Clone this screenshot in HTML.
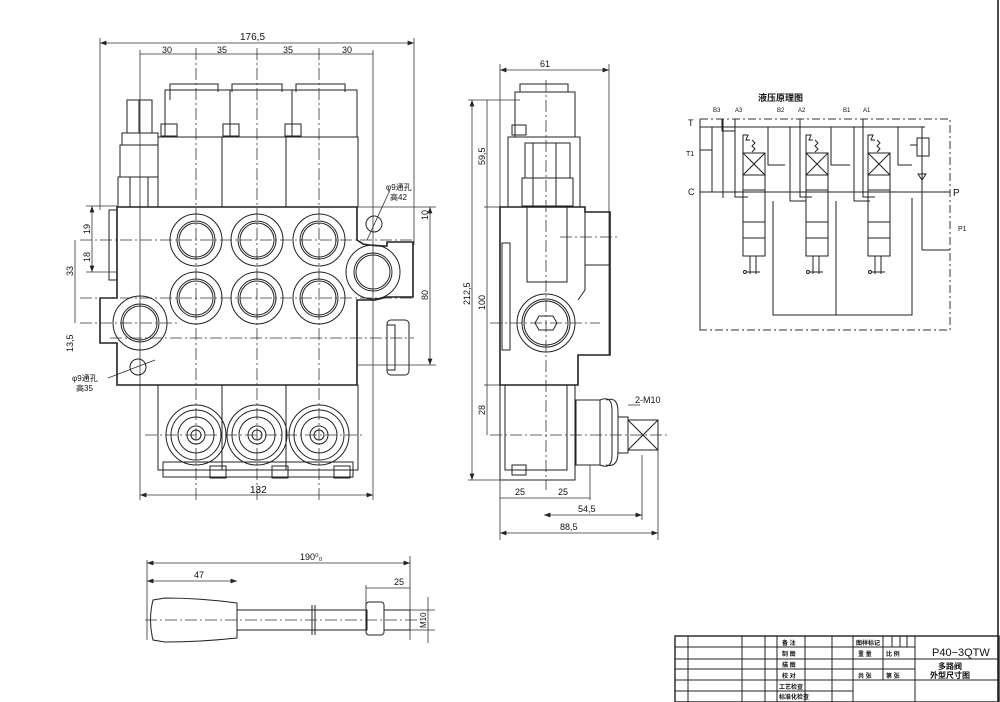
<!DOCTYPE html>
<html><head><meta charset="utf-8"><style>
body{margin:0;background:#fff}
svg{display:block}
text{font-family:"Liberation Sans","Noto Sans CJK SC",sans-serif;fill:#111}
.s{fill:none;stroke:#222;stroke-width:1}
.t{fill:none;stroke:#222;stroke-width:1.6}
.c{fill:none;stroke:#333;stroke-width:.8;stroke-dasharray:12 3 2 3}
.d{fill:none;stroke:#333;stroke-width:.8}
.dd{fill:none;stroke:#333;stroke-width:1;stroke-dasharray:8 3 2 3}
</style></head><body>
<svg width="1000" height="702" viewBox="0 0 1000 702" xmlns="http://www.w3.org/2000/svg">
<defs><marker id="a" markerWidth="8" markerHeight="6" refX="8" refY="3" orient="auto-start-reverse"><path d="M0,0 L8,3 L0,6 z" fill="#222"/></marker></defs>

<!-- ===== FRONT VIEW ===== -->
<!-- dims top -->
<line class="d" x1="100" y1="38" x2="100" y2="210"/><line class="d" x1="414" y1="38" x2="414" y2="245"/>
<line class="d" x1="100" y1="43" x2="414" y2="43" marker-start="url(#a)" marker-end="url(#a)"/>
<text x="240" y="40" font-size="10">176,5</text>
<line class="d" x1="140" y1="54" x2="373" y2="54"/>
<line class="d" x1="140" y1="50" x2="140" y2="500"/><line class="d" x1="373" y1="50" x2="373" y2="500"/>
<text x="162" y="53" font-size="9">30</text><text x="217" y="53" font-size="9">35</text><text x="283" y="53" font-size="9">35</text><text x="342" y="53" font-size="9">30</text>
<line class="c" x1="196" y1="48" x2="196" y2="500"/><line class="c" x1="257" y1="48" x2="257" y2="500"/><line class="c" x1="319" y1="48" x2="319" y2="500"/>
<!-- top caps -->
<rect class="s" x="165" y="90" width="192" height="47"/>
<line class="s" x1="230" y1="90" x2="230" y2="137"/><line class="s" x1="292" y1="90" x2="292" y2="137"/>
<polyline class="s" points="170,100 170,84 218,84 218,92"/><polyline class="s" points="232,92 232,84 282,84 282,92"/><polyline class="s" points="296,92 296,84 345,84 345,92"/>
<rect class="s" x="161" y="124" width="16" height="12"/><rect class="s" x="223" y="124" width="16" height="12"/><rect class="s" x="285" y="124" width="16" height="12"/>
<rect class="s" x="158" y="137" width="200" height="70"/>
<line class="s" x1="222" y1="137" x2="222" y2="207"/><line class="s" x1="286" y1="137" x2="286" y2="207"/>
<!-- relief valve -->
<rect class="s" x="127" y="100" width="25" height="33"/><line class="s" x1="139" y1="100" x2="139" y2="133"/>
<rect class="s" x="122" y="133" width="36" height="12"/>
<rect class="s" x="120" y="145" width="38" height="32"/>
<rect class="s" x="118" y="177" width="40" height="30"/><line class="s" x1="130" y1="177" x2="130" y2="207"/><line class="s" x1="148" y1="177" x2="148" y2="207"/>
<!-- body -->
<path class="t" d="M117,207 H357 V240 L363,244 Q373,246 387,246 V242 H413 V297 H387 L375,300 H357 V385 H117 V343 H100 V298 H117 Z"/>
<rect class="s" x="109" y="210" width="8" height="70"/>
<rect class="s" x="387" y="320" width="22" height="55" rx="4"/><rect class="s" x="387" y="325" width="8" height="45"/>
<line class="c" x1="110" y1="338" x2="414" y2="338"/>
<line class="c" x1="80" y1="240" x2="414" y2="240"/><line class="c" x1="80" y1="298" x2="414" y2="298"/>
<line class="c" x1="80" y1="323" x2="180" y2="323"/>
<!-- ports -->
<g class="s">
<circle cx="196" cy="240" r="26"/><circle cx="196" cy="240" r="19"/><circle cx="196" cy="240" r="17"/>
<circle cx="257" cy="240" r="26"/><circle cx="257" cy="240" r="19"/><circle cx="257" cy="240" r="17"/>
<circle cx="319" cy="240" r="26"/><circle cx="319" cy="240" r="19"/><circle cx="319" cy="240" r="17"/>
<circle cx="196" cy="298" r="26"/><circle cx="196" cy="298" r="19"/><circle cx="196" cy="298" r="17"/>
<circle cx="257" cy="298" r="26"/><circle cx="257" cy="298" r="19"/><circle cx="257" cy="298" r="17"/>
<circle cx="319" cy="298" r="26"/><circle cx="319" cy="298" r="19"/><circle cx="319" cy="298" r="17"/>
<circle cx="373" cy="272" r="27"/><circle cx="373" cy="272" r="19"/><circle cx="373" cy="272" r="17"/>
<circle cx="140" cy="323" r="27"/><circle cx="140" cy="323" r="19"/><circle cx="140" cy="323" r="17"/>
<circle cx="374" cy="224" r="8"/><circle cx="138" cy="367" r="8"/>
</g>
<!-- bottom -->
<rect class="s" x="158" y="385" width="200" height="85"/>
<line class="s" x1="222" y1="385" x2="222" y2="470"/><line class="s" x1="286" y1="385" x2="286" y2="470"/>
<rect class="s" x="163" y="462" width="190" height="15"/>
<g class="s">
<circle cx="196" cy="435" r="30"/><circle cx="196" cy="435" r="25"/><circle cx="196" cy="435" r="18"/><circle cx="196" cy="435" r="9"/><circle cx="196" cy="435" r="5"/>
<circle cx="257" cy="435" r="30"/><circle cx="257" cy="435" r="25"/><circle cx="257" cy="435" r="18"/><circle cx="257" cy="435" r="9"/><circle cx="257" cy="435" r="5"/>
<circle cx="319" cy="435" r="30"/><circle cx="319" cy="435" r="25"/><circle cx="319" cy="435" r="18"/><circle cx="319" cy="435" r="9"/><circle cx="319" cy="435" r="5"/>
<rect x="210" y="466" width="16" height="12"/><rect x="272" y="466" width="16" height="12"/><rect x="334" y="466" width="16" height="12"/>
</g>
<line class="c" x1="145" y1="435" x2="365" y2="435"/>
<line class="d" x1="140" y1="495" x2="373" y2="495" marker-start="url(#a)" marker-end="url(#a)"/>
<text x="250" y="493" font-size="10">132</text>
<!-- left dims -->
<line class="d" x1="86" y1="206" x2="117" y2="206"/><line class="d" x1="86" y1="272" x2="117" y2="272"/>
<line class="d" x1="92" y1="206" x2="92" y2="272" marker-start="url(#a)" marker-end="url(#a)"/>
<line class="d" x1="75" y1="240" x2="75" y2="323"/>
<text x="90" y="234" font-size="9" transform="rotate(-90 90 234)">19</text>
<text x="90" y="262" font-size="9" transform="rotate(-90 90 262)">18</text>
<text x="73" y="276" font-size="9" transform="rotate(-90 73 276)">33</text>
<text x="73" y="352" font-size="9" transform="rotate(-90 73 352)">13,5</text>
<!-- right dims -->
<line class="d" x1="357" y1="207" x2="436" y2="207"/><line class="d" x1="357" y1="365" x2="436" y2="365"/>
<line class="d" x1="430" y1="207" x2="430" y2="365" marker-start="url(#a)" marker-end="url(#a)"/>
<text x="428" y="220" font-size="9" transform="rotate(-90 428 220)">10</text>
<text x="428" y="300" font-size="9" transform="rotate(-90 428 300)">80</text>
<line class="d" x1="367" y1="240" x2="390" y2="190"/>
<text x="386" y="190" font-size="8">φ9通孔</text><text x="390" y="200" font-size="8">高42</text>
<line class="d" x1="108" y1="378" x2="155" y2="360"/>
<text x="72" y="381" font-size="8">φ9通孔</text><text x="76" y="391" font-size="8">高35</text>

<!-- ===== SIDE VIEW ===== -->
<line class="d" x1="500" y1="64" x2="500" y2="207"/><line class="d" x1="609" y1="64" x2="609" y2="355"/>
<line class="d" x1="500" y1="70" x2="609" y2="70" marker-start="url(#a)" marker-end="url(#a)"/>
<text x="540" y="67" font-size="9">61</text>
<polyline class="s" points="520,92 520,84 568,84 568,92"/>
<rect class="s" x="515" y="92" width="60" height="45"/>
<rect class="s" x="512" y="125" width="14" height="10"/>
<rect class="s" x="508" y="137" width="72" height="70"/>
<rect class="s" x="525" y="143" width="45" height="35"/><rect class="s" x="522" y="178" width="51" height="28"/>
<line class="s" x1="533" y1="143" x2="533" y2="206"/><line class="s" x1="556" y1="143" x2="556" y2="206"/>
<path class="t" d="M500,207 H585 V212 H610 V355 H578 V385 H500 Z"/>
<rect class="s" x="527" y="207" width="40" height="75"/>
<rect class="s" x="502" y="243" width="8" height="107"/>
<line class="s" x1="585" y1="212" x2="585" y2="290"/><line class="s" x1="585" y1="265" x2="610" y2="265"/>
<line class="s" x1="585" y1="290" x2="578" y2="300"/>
<circle class="s" cx="546" cy="323" r="29"/><circle class="s" cx="546" cy="323" r="24"/><circle class="s" cx="546" cy="323" r="22"/>
<polygon class="s" points="539,316 553,316 557,323 553,330 539,330 535,323"/>
<rect class="s" x="500" y="385" width="75" height="95"/>
<rect class="s" x="505" y="385" width="62" height="85"/>
<rect class="s" x="512" y="465" width="14" height="10"/>
<rect class="s" x="576" y="400" width="24" height="65"/>
<path class="s" d="M600,400 Q612,395 612,410 V455 Q612,470 600,465 Z"/>
<path class="s" d="M606,400 Q618,396 618,412 V452 Q618,468 606,465"/>
<rect class="s" x="618" y="417" width="10" height="36"/>
<rect class="s" x="628" y="420" width="30" height="30"/>
<line class="s" x1="628" y1="420" x2="658" y2="450"/><line class="s" x1="658" y1="420" x2="628" y2="450"/>
<line class="c" x1="490" y1="435" x2="668" y2="435"/><line class="c" x1="546" y1="80" x2="546" y2="490"/>
<line class="c" x1="490" y1="323" x2="600" y2="323"/><line class="c" x1="560" y1="237" x2="620" y2="237"/>
<line class="d" x1="628" y1="405" x2="640" y2="405"/><text x="635" y="403" font-size="9">2-M10</text>
<!-- side dims -->
<line class="d" x1="468" y1="100" x2="520" y2="100"/><line class="d" x1="468" y1="480" x2="500" y2="480"/>
<line class="d" x1="472" y1="100" x2="472" y2="480" marker-start="url(#a)" marker-end="url(#a)"/>
<line class="d" x1="487" y1="100" x2="487" y2="435"/>
<line class="d" x1="484" y1="207" x2="500" y2="207"/><line class="d" x1="484" y1="385" x2="500" y2="385"/>
<text x="470" y="305" font-size="9" transform="rotate(-90 470 305)">212,5</text>
<text x="485" y="165" font-size="9" transform="rotate(-90 485 165)">59,5</text>
<text x="485" y="310" font-size="9" transform="rotate(-90 485 310)">100</text>
<text x="485" y="415" font-size="9" transform="rotate(-90 485 415)">28</text>
<line class="d" x1="500" y1="480" x2="500" y2="540"/><line class="d" x1="590" y1="465" x2="590" y2="500"/>
<line class="d" x1="642" y1="455" x2="642" y2="520"/><line class="d" x1="658" y1="450" x2="658" y2="540"/>
<line class="d" x1="500" y1="498" x2="590" y2="498"/>
<text x="515" y="495" font-size="9">25</text><text x="558" y="495" font-size="9">25</text>
<line class="d" x1="544" y1="515" x2="642" y2="515" marker-start="url(#a)" marker-end="url(#a)"/><text x="578" y="512" font-size="9">54,5</text>
<line class="d" x1="500" y1="533" x2="658" y2="533" marker-start="url(#a)" marker-end="url(#a)"/><text x="560" y="530" font-size="9">88,5</text>

<!-- ===== HANDLE ===== -->
<line class="d" x1="147" y1="560" x2="147" y2="640"/><line class="d" x1="410" y1="556" x2="410" y2="640"/>
<line class="d" x1="147" y1="563" x2="410" y2="563" marker-start="url(#a)" marker-end="url(#a)"/>
<text x="300" y="560" font-size="9">190⁰₀</text>
<line class="d" x1="147" y1="581" x2="237" y2="581" marker-start="url(#a)" marker-end="url(#a)"/>
<text x="194" y="578" font-size="9">47</text>
<line class="d" x1="366" y1="588" x2="410" y2="588"/><line class="d" x1="366" y1="585" x2="366" y2="605"/>
<text x="394" y="585" font-size="9">25</text>
<path class="s" d="M153,600 L165,598 Q200,598 237,603 V638 Q200,642 165,642 L153,640 Q148,620 153,600 Z"/>
<rect class="s" x="237" y="610" width="130" height="20"/>
<line class="s" x1="312" y1="605" x2="312" y2="635"/><line class="s" x1="315" y1="605" x2="315" y2="635"/>
<rect class="s" x="366" y="602" width="18" height="33" rx="3"/>
<rect class="s" x="384" y="610" width="26" height="20"/>
<line class="c" x1="145" y1="620" x2="420" y2="620"/>
<line class="d" x1="410" y1="610" x2="435" y2="610"/><line class="d" x1="410" y1="630" x2="435" y2="630"/>
<line class="d" x1="428" y1="597" x2="428" y2="643"/>
<text x="426" y="628" font-size="8" transform="rotate(-90 426 628)">M10</text>

<!-- ===== SCHEMATIC ===== -->
<text x="758" y="101" font-size="9" font-weight="bold">液压原理图</text>
<rect class="dd" x="700" y="119" width="250" height="211"/>
<text x="688" y="126" font-size="9">T</text><text x="686" y="156" font-size="7">T1</text><text x="688" y="195" font-size="9">C</text>
<text x="953" y="196" font-size="10">P</text><text x="958" y="231" font-size="7">P1</text>
<text x="713" y="112" font-size="6">B3</text><text x="735" y="112" font-size="6">A3</text>
<text x="777" y="112" font-size="6">B2</text><text x="798" y="112" font-size="6">A2</text>
<text x="843" y="112" font-size="6">B1</text><text x="863" y="112" font-size="6">A1</text>
<g class="s">
<line x1="700" y1="127" x2="925" y2="127"/><line x1="700" y1="192" x2="950" y2="192"/>
<line x1="712" y1="127" x2="712" y2="192"/><line x1="700" y1="150" x2="712" y2="150"/>
<polyline points="735,119 735,197 748,197"/><polyline points="800,119 800,197 812,197"/><polyline points="863,119 863,197 875,197"/>
<polyline points="722,119 722,131 735,131"/>
<polyline points="723,119 723,198 "/>
<polyline points="790,127 790,201 806,201"/><polyline points="854,127 854,201 870,201"/>
<polyline points="768,127 768,165 785,165"/><polyline points="831,127 831,165 850,165"/><polyline points="898,127 898,165 912,165"/>
<line x1="922" y1="127" x2="922" y2="250"/><polyline points="922,250 950,250"/>
<polyline points="912,168 912,168 912,168"/>
<polyline points="773,201 773,315 912,315 912,198"/><line x1="836" y1="201" x2="836" y2="315"/>
</g>
<g class="s" id="sp">
<rect x="743" y="153" width="22" height="103"/>
<line x1="743" y1="175" x2="765" y2="175"/><line x1="743" y1="190" x2="765" y2="190"/><line x1="743" y1="222" x2="765" y2="222"/><line x1="743" y1="238" x2="765" y2="238"/>
<line x1="743" y1="153" x2="765" y2="175"/><line x1="765" y1="153" x2="743" y2="175"/>
<polyline points="743,153 743,135 748,135 746,140 750,140"/><path d="M752,140 l3,3 l-3,3 l3,3 l-3,3"/>
<line x1="750" y1="256" x2="750" y2="274"/><line x1="756" y1="256" x2="756" y2="274"/>
<circle cx="745" cy="272" r="1.5"/><line x1="747" y1="272" x2="760" y2="272"/>
</g>
<use href="#sp" x="63"/><use href="#sp" x="125"/>
<rect class="s" x="917" y="138" width="12" height="18"/><polyline class="s" points="910,145 917,145"/>
<polygon class="s" points="918,174 926,174 922,180"/><line class="s" x1="922" y1="156" x2="922" y2="174"/>
<line class="s" x1="700" y1="330" x2="700" y2="119"/>

<!-- ===== TITLE BLOCK ===== -->
<line x1="998" y1="0" x2="998" y2="702" stroke="#222" stroke-width="1.6"/>
<g class="s">
<rect x="675" y="636" width="324" height="66" stroke-width="1.4"/>
<line x1="675" y1="647" x2="915" y2="647"/><line x1="675" y1="659" x2="998" y2="659"/>
<line x1="675" y1="669" x2="915" y2="669"/><line x1="675" y1="680" x2="998" y2="680"/>
<line x1="675" y1="691" x2="853" y2="691"/>
<line x1="688" y1="636" x2="688" y2="702"/><line x1="742" y1="636" x2="742" y2="702"/>
<line x1="765" y1="636" x2="765" y2="702"/><line x1="777" y1="636" x2="777" y2="702"/>
<line x1="805" y1="636" x2="805" y2="702"/><line x1="832" y1="636" x2="832" y2="702"/>
<line x1="853" y1="636" x2="853" y2="702"/><line x1="883" y1="636" x2="883" y2="680"/>
<line x1="892" y1="636" x2="892" y2="647"/><line x1="900" y1="636" x2="900" y2="647"/>
<line x1="907" y1="636" x2="907" y2="647"/><line x1="915" y1="636" x2="915" y2="702"/>
</g>
<g font-size="6" font-weight="bold">
<text x="782" y="645">备 注</text><text x="782" y="656">制 图</text><text x="782" y="667">描 图</text>
<text x="782" y="678">校 对</text><text x="779" y="689">工艺检查</text><text x="779" y="699">标准化检查</text>
<text x="856" y="645">图样标记</text><text x="858" y="656">重 量</text><text x="886" y="656">比 例</text>
<text x="858" y="678">共 张</text><text x="886" y="678">第 张</text>
<text x="938" y="669" font-size="8">多路阀</text><text x="930" y="678" font-size="8">外型尺寸图</text>
</g>
<text x="932" y="656" font-size="11">P40−3QTW</text>
</svg>
</body></html>
